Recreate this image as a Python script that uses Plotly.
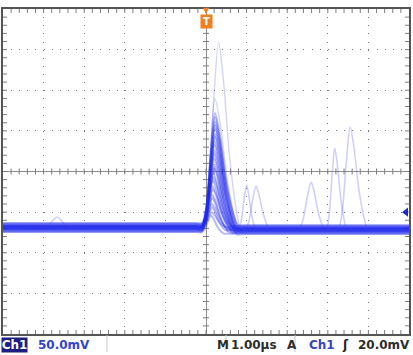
import plotly.graph_objects as go

TIME_RANGE_US = [-5.0, 5.0]          # 10 divisions x 1.00 us
VOLT_RANGE_MV = [-200.0, 200.0]      # 8 divisions x 50.0 mV

BASELINE_MV = -69.0                  # trace level before the pulse
BASELINE_AFTER_MV = -71.5            # slightly lower level after the pulse
BASE_SPREAD_MV = [-5.0, 3.5, -1.0, 2.0, 0.0, -3.5, 5.0, 1.0, -2.0, 4.0, -0.5, 2.5, -4.0,
                  0.5, -1.5, 1.5, -2.5, 3.0, 0.0, -5.5, 2.0, -1.0, 5.5, -2.0, 1.0, -3.0, 0.5]

MAIN_START_US = -0.10
MAIN_PEAK_MV = [-54, -50, -44, -40, -33, -29, -22, -18, -11, -7, -2, 5, 9, 16, 22, 26,
                33, 37, 43, 46, 53, 57, 61, 67, 72, 90, 159]
MAIN_PEAK_US = [0.12, 0.14, 0.15, 0.15, 0.16, 0.16, 0.17, 0.17, 0.17, 0.18, 0.18, 0.20,
                0.20, 0.20, 0.20, 0.21, 0.21, 0.21, 0.22, 0.22, 0.22, 0.22, 0.22, 0.22,
                0.22, 0.22, 0.31]
MAIN_END_US = [0.44, 0.47, 0.49, 0.52, 0.54, 0.57, 0.59, 0.59, 0.62, 0.64, 0.64, 0.66,
               0.66, 0.69, 0.69, 0.71, 0.71, 0.74, 0.74, 0.76, 0.76, 0.76, 0.79, 0.79,
               0.81, 0.84, 0.86]

LATE_PEAK_US = [1.00, 1.23, 2.59, 3.17, 3.55, -3.67]
LATE_PEAK_MV = [-16.6, -17.8, -12.9, 28.9, 54.8, -56.0]
LATE_START_US = [0.79, 0.96, 2.27, 2.96, 3.25, -4.01]
LATE_END_US = [1.23, 1.58, 2.93, 3.47, 3.99, -3.33]

# normalised pulse profile (fraction of time / fraction of height)
RISE_T = [0.35, 0.7, 1.0]
RISE_V = [0.18, 0.68, 1.0]
FALL_T = [0.2, 0.5, 0.8, 1.0]
FALL_V = [0.82, 0.38, 0.1, 0.0]

CH1_SCALE = "50.0mV"
TIMEBASE = "1.00µs"
TRIG_LEVEL = "20.0mV"
TRIG_MARK_MV = -50.0

# ---------------- geometry helpers ----------------
L, R, T, B = 3, 4, 9, 21
W, H = 413, 355
PW, PH = W - L - R, H - T - B
US_PER_PX = (TIME_RANGE_US[1] - TIME_RANGE_US[0]) / PW
MV_PER_PX = (VOLT_RANGE_MV[1] - VOLT_RANGE_MV[0]) / PH


def paper_x(px):
    return (px - L) / PW


def paper_y(py):
    return (H - B - py) / PH


def pulse_path(t0, tp, te, base_l, base_r, peak, x_from, x_to):
    xs = [x_from, t0 - 0.15, t0]
    ys = [base_l, base_l, base_l]
    for f, g in zip(RISE_T, RISE_V):
        xs.append(t0 + f * (tp - t0))
        ys.append(base_l + g * (peak - base_l))
    for f, g in zip(FALL_T, FALL_V):
        xs.append(tp + f * (te - tp))
        ys.append(base_r + g * (peak - base_r))
    xs += [te + 0.2, x_to]
    ys += [base_r, base_r]
    return xs, ys


fig = go.Figure()

# ---- graticule tick marks (border + centre cross) ----
tx, ty = [], []
tick_b = 4
tick_c = 3
for k in range(1, 50):
    t = TIME_RANGE_US[0] + 0.2 * k
    tx += [t, t, None, t, t, None, t, t, None]
    ty += [VOLT_RANGE_MV[1], VOLT_RANGE_MV[1] - tick_b * MV_PER_PX, None,
           VOLT_RANGE_MV[0], VOLT_RANGE_MV[0] + tick_b * MV_PER_PX, None,
           -tick_c * MV_PER_PX, tick_c * MV_PER_PX, None]
for k in range(1, 40):
    v = VOLT_RANGE_MV[0] + 10 * k
    tx += [TIME_RANGE_US[0], TIME_RANGE_US[0] + tick_b * US_PER_PX, None,
           TIME_RANGE_US[1], TIME_RANGE_US[1] - tick_b * US_PER_PX, None,
           -tick_c * US_PER_PX, tick_c * US_PER_PX, None]
    ty += [v, v, None, v, v, None, v, v, None]
fig.add_trace(go.Scatter(x=tx, y=ty, mode="lines", hoverinfo="skip",
                         line=dict(color="rgb(125,125,125)", width=1)))

# ---- persistence traces: main pulse family ----
for i, pk in enumerate(MAIN_PEAK_MV):
    off = BASE_SPREAD_MV[i % len(BASE_SPREAD_MV)]
    xs, ys = pulse_path(MAIN_START_US, MAIN_PEAK_US[i], MAIN_END_US[i],
                        BASELINE_MV + off, BASELINE_AFTER_MV + off, pk,
                        TIME_RANGE_US[0], TIME_RANGE_US[1])
    alpha = 0.32 if pk < 80 else 0.2
    width = 2.0 if pk < 80 else 1.4
    fig.add_trace(go.Scatter(x=xs, y=ys, mode="lines", hoverinfo="skip",
                             line=dict(color=f"rgba(35,45,235,{alpha})", width=width,
                                       shape="spline", smoothing=0.8)))

# ---- late / stray pulses ----
for i, pk in enumerate(LATE_PEAK_MV):
    base = BASELINE_AFTER_MV if LATE_PEAK_US[i] > 0 else BASELINE_MV
    xs, ys = pulse_path(LATE_START_US[i], LATE_PEAK_US[i], LATE_END_US[i],
                        base, base, pk, LATE_START_US[i] - 0.3, LATE_END_US[i] + 0.3)
    fig.add_trace(go.Scatter(x=xs, y=ys, mode="lines", hoverinfo="skip",
                             line=dict(color="rgba(60,60,235,0.24)", width=1.6,
                                       shape="spline", smoothing=0.8)))

# ---- trigger level marker on the right edge ----
fig.add_trace(go.Scatter(x=[TIME_RANGE_US[1] - 3 * US_PER_PX], y=[TRIG_MARK_MV], mode="markers",
                         hoverinfo="skip", cliponaxis=False,
                         marker=dict(symbol="triangle-left", size=8, color="rgb(30,40,210)")))

dash_x = f"1px,{PH / 40 - 1:.3f}px"
dash_y = f"1px,{PW / 50 - 1:.3f}px"

fig.update_layout(
    width=W, height=H, margin=dict(l=L, r=R, t=T, b=B),
    paper_bgcolor="white", plot_bgcolor="white", showlegend=False,
    xaxis=dict(range=TIME_RANGE_US, dtick=1, tick0=0, showticklabels=False, ticks="",
               showgrid=True, gridcolor="rgb(120,120,120)", gridwidth=1, griddash=dash_x,
               zeroline=True, zerolinecolor="rgb(140,140,140)", zerolinewidth=1,
               showline=True, mirror=True, linecolor="rgb(85,85,85)", linewidth=2,
               fixedrange=True),
    yaxis=dict(range=VOLT_RANGE_MV, dtick=50, tick0=0, showticklabels=False, ticks="",
               showgrid=True, gridcolor="rgb(120,120,120)", gridwidth=1, griddash=dash_y,
               zeroline=True, zerolinecolor="rgb(140,140,140)", zerolinewidth=1,
               showline=True, mirror=True, linecolor="rgb(85,85,85)", linewidth=2,
               fixedrange=True),
)

FONT = "DejaVu Sans"
FS = 12
ty_txt = paper_y(345)
annos = [
    dict(text="<b>Ch1</b>", x=paper_x(14.5), xanchor="center", font=dict(color="white", size=FS),
         bgcolor="rgb(28,30,130)", width=25, height=14, borderpad=0),
    dict(text=f"<b>{CH1_SCALE}</b>", x=paper_x(36), xanchor="left", font=dict(color="rgb(50,70,200)", size=FS)),
    dict(text="<b>M</b>", x=paper_x(215), xanchor="left", font=dict(color="rgb(45,45,45)", size=FS)),
    dict(text=f"<b>{TIMEBASE}</b>", x=paper_x(229), xanchor="left", font=dict(color="rgb(45,45,45)", size=FS)),
    dict(text="<b>A</b>", x=paper_x(285), xanchor="left", font=dict(color="rgb(45,45,45)", size=FS)),
    dict(text="<b>Ch1</b>", x=paper_x(307), xanchor="left", font=dict(color="rgb(50,70,200)", size=FS)),
    dict(text="<b>ʃ</b>", x=paper_x(345), xanchor="center", font=dict(color="rgb(30,30,30)", size=FS)),
    dict(text=f"<b>{TRIG_LEVEL}</b>", x=paper_x(412), xanchor="right", font=dict(color="rgb(45,45,45)", size=FS)),
]
for a in annos:
    a.update(xref="paper", yref="paper", y=ty_txt, yanchor="middle", showarrow=False)
    a["font"]["family"] = FONT
    fig.add_annotation(**a)

# separators in the status line
for sx in [107, 226, 295]:
    fig.add_shape(type="line", xref="paper", yref="paper", x0=paper_x(sx), x1=paper_x(sx),
                  y0=paper_y(335), y1=paper_y(352), line=dict(color="rgb(200,200,200)", width=1))

# trigger position marker (orange T at top centre)
fig.add_annotation(text="▼", xref="x", yref="paper", x=0, y=paper_y(10), yanchor="middle",
                   showarrow=False, font=dict(family=FONT, size=8, color="rgb(240,128,30)"))
fig.add_annotation(text="<b>T</b>", xref="x", yref="paper", x=0, y=paper_y(21), yanchor="middle",
                   showarrow=False, font=dict(family=FONT, size=10, color="white"),
                   bgcolor="rgb(240,128,30)", width=11, height=13, borderpad=0)

fig.write_html("out.html")
